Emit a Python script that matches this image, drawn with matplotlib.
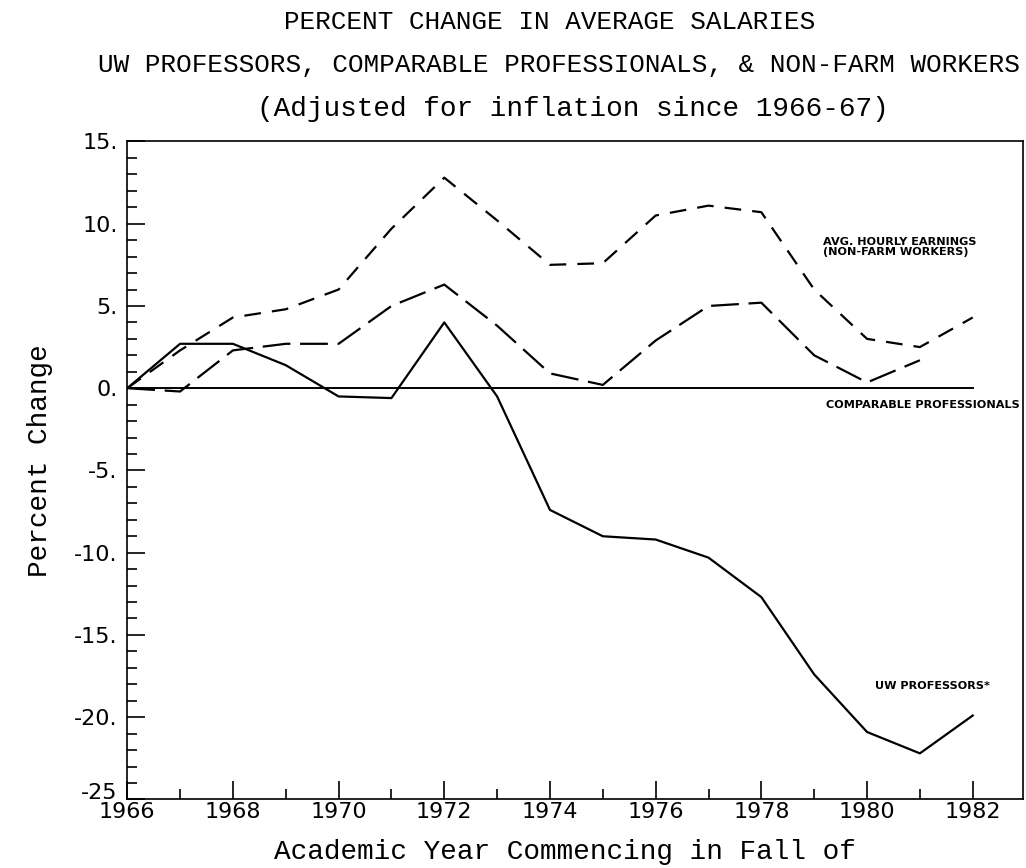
import numpy as np
import matplotlib
matplotlib.use('Agg')
import matplotlib.pyplot as plt
import matplotlib.transforms as mtransforms
from matplotlib.ticker import MultipleLocator, FixedLocator

plt.rcParams['lines.scale_dashes'] = False

# Values (percent change since 1966-67)
years = [1966, 1967, 1968, 1969, 1970, 1971, 1972, 1973, 1974,
         1975, 1976, 1977, 1978, 1979, 1980, 1981, 1982]
uw_professors = [0.0, 2.7, 2.7, 1.4, -0.5, -0.6, 4.0, -0.5, -7.4,
                 -9.0, -9.2, -10.3, -12.7, -17.4, -20.9, -22.2, -19.9]
non_farm = [0.0, 2.3, 4.3, 4.8, 6.0, 9.7, 12.8, 10.2, 7.5,
            7.6, 10.5, 11.1, 10.7, 6.0, 3.0, 2.5, 4.3]
comp_years = years[:-1]
comparable = [0.0, -0.2, 2.3, 2.7, 2.7, 5.0, 6.3, 3.8, 0.9,
              0.2, 2.9, 5.0, 5.2, 2.0, 0.35, 1.7]
baseline_years = [1966, 1982]
baseline = [0.0, 0.0]

y_ticks = [15, 10, 5, 0, -5, -10, -15, -20, -25]
y_ticklabels = ['15.', '10.', '5.', '0.', '-5.', '-10.', '-15.', '-20.', '-25']
x_ticks = list(range(1966, 1983, 2))

mono = 'Liberation Mono'

fig = plt.figure(figsize=(10.26, 8.68), dpi=100)
ax = fig.add_axes([0.124, 0.079, 0.873, 0.758])

ax.plot(years, uw_professors, color='black', lw=1.6)
ax.plot(years, non_farm, color='black', lw=1.6, dashes=(12, 8))
ax.plot(comp_years, comparable, color='black', lw=1.6, dashes=(20, 7))
ax.plot(baseline_years, baseline, color='black', lw=1.4)

ax.set_xlim(1966, 1982.95)
ax.set_ylim(-25, 15)

ax.xaxis.set_major_locator(FixedLocator(x_ticks))
ax.xaxis.set_minor_locator(MultipleLocator(1))
ax.yaxis.set_major_locator(FixedLocator(y_ticks))
ax.yaxis.set_minor_locator(MultipleLocator(1))
ax.set_yticklabels(y_ticklabels)
ax.set_xticklabels([str(y) for y in x_ticks])

ax.tick_params(which='both', direction='in', top=False, right=False,
               width=1.2, labelsize=16)
ax.tick_params(which='major', length=13)
ax.tick_params(which='minor', length=7)
ax.tick_params(axis='y', pad=7)
ax.tick_params(axis='x', pad=2)
for s in ax.spines.values():
    s.set_linewidth(1.2)

# the "-25" sits a little higher than the year labels in the original
last = ax.get_yticklabels()[-1]
last.set_transform(last.get_transform() +
                   mtransforms.ScaledTranslation(0, 6 / 72, fig.dpi_scale_trans))

ax.set_ylabel('Percent Change', family=mono, fontsize=20)
ax.yaxis.set_label_coords(-0.083, 0.515)
fig.text(0.551, 0.019, 'Academic Year Commencing in Fall of', family=mono,
         fontsize=20, ha='center', va='center')

fig.text(0.536, 0.975, 'PERCENT CHANGE IN AVERAGE SALARIES', family=mono,
         fontsize=18.7, ha='center', va='center')
fig.text(0.545, 0.925,
         'UW PROFESSORS, COMPARABLE PROFESSIONALS, & NON-FARM WORKERS',
         family=mono, fontsize=18.7, ha='center', va='center')
fig.text(0.558, 0.875, '(Adjusted for inflation since 1966-67)',
         family=mono, fontsize=20, ha='center', va='center')

lab = dict(fontsize=8.1, fontweight='bold', family='DejaVu Sans',
           va='center', ha='left')
ax.text(1979.17, 8.6, 'AVG. HOURLY EARNINGS\n(NON-FARM WORKERS)',
        linespacing=0.95, **lab)
ax.text(1979.23, -1.03, 'COMPARABLE PROFESSIONALS', **lab)
ax.text(1980.16, -18.08, 'UW PROFESSORS*', **lab)

fig.savefig('out.png', dpi=100)
